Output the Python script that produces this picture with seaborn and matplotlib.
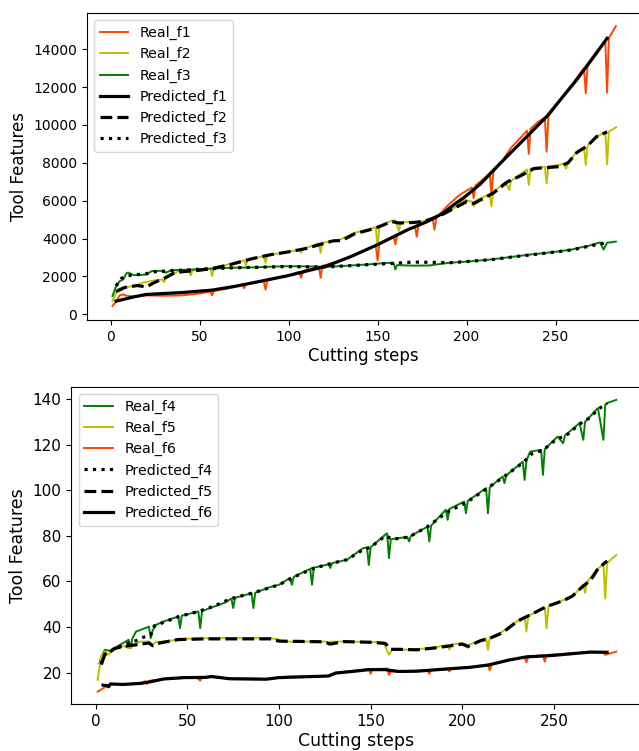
import matplotlib
matplotlib.use("Agg")
import matplotlib.pyplot as plt
import seaborn as sns

# ---- top panel: f1..f3 ----
f1_x = [1, 3, 5, 7, 9, 12, 20, 30, 40, 50, 56, 57, 58, 65, 74, 75, 76, 86, 87, 88, 100, 106, 107, 108,
        117, 118, 119, 128, 140, 149, 150, 151, 159, 160, 161, 167, 171, 172, 173, 181, 182, 183, 190,
        196, 203, 204, 205, 210, 213, 214, 215, 220, 225, 230, 234, 235, 236, 240, 244, 245, 246, 255,
        262, 266, 267, 268, 275, 278, 279, 280, 284]
f1_y = [440, 650, 1000, 1050, 980, 950, 1000, 980, 1000, 1100, 1200, 1000, 1230, 1350, 1550, 1380, 1580,
        1760, 1300, 1800, 2050, 2250, 1930, 2300, 2500, 1930, 2560, 2800, 3250, 3640, 2840, 3700, 4100,
        3700, 4180, 4470, 4650, 4100, 4700, 5050, 4470, 5100, 5800, 6300, 6700, 6140, 6800, 7200, 7450,
        6300, 7500, 8100, 8800, 9300, 9700, 8470, 9800, 10150, 10400, 8590, 10450, 11600, 12500, 13000,
        11680, 13100, 14000, 14400, 11710, 14600, 15230]
p1_x = [3, 6, 12, 20, 40, 57, 70, 87, 100, 121, 135, 150, 167, 178, 187, 193, 199, 208, 215, 225, 245,
        262, 279]
p1_y = [700, 760, 900, 1050, 1150, 1280, 1480, 1800, 2050, 2540, 3050, 3680, 4470, 4900, 5350, 5800,
        6200, 6900, 7600, 8550, 10440, 12400, 14580]

f2_x = [1, 4, 6, 13, 18, 25, 29, 30, 31, 38, 44, 45, 46, 52, 56, 57, 58, 66, 75, 76, 77, 86, 87, 88, 98,
        106, 107, 108, 117, 118, 119, 128, 137, 149, 150, 151, 158, 160, 162, 163, 170, 176, 187, 193,
        199, 203, 204, 205, 213, 214, 215, 222, 224, 225, 234, 235, 236, 244, 245, 246, 255, 256, 257,
        262, 266, 267, 268, 273, 278, 279, 280, 284]
f2_y = [700, 1316, 1400, 1490, 1670, 1800, 1840, 1700, 1900, 2280, 2320, 2050, 2330, 2380, 2420, 2020,
        2430, 2630, 2850, 2600, 2870, 3080, 2720, 3120, 3280, 3400, 3245, 3450, 3750, 3245, 3780, 3910,
        4300, 4600, 3500, 4650, 4950, 4950, 4400, 4850, 4880, 4910, 5350, 5610, 6050, 5950, 5700, 6000,
        6350, 5700, 6450, 7000, 6567, 7050, 7650, 6830, 7700, 7800, 6920, 7800, 7950, 7700, 8000, 8590,
        8800, 7890, 8900, 9380, 9600, 7925, 9650, 9880]
p2_x = [3, 8, 15, 20, 25, 30, 35, 40, 50, 57, 66, 80, 90, 100, 110, 118, 125, 130, 137, 145, 150, 158,
        162, 170, 176, 182, 187, 195, 200, 204, 210, 215, 223, 230, 238, 245, 252, 257, 262, 268, 273, 279]
p2_y = [1200, 1420, 1520, 1450, 1700, 1900, 2150, 2250, 2330, 2420, 2600, 2950, 3150, 3300, 3480, 3700,
        3880, 3900, 4250, 4450, 4600, 4900, 4820, 4850, 4900, 5100, 5300, 5700, 5950, 5850, 6150, 6400,
        7000, 7300, 7700, 7750, 7800, 8000, 8550, 8900, 9380, 9640]

f3_x = [1, 3, 5, 7, 9, 10, 13, 20, 23, 28, 31, 34, 48, 66, 80, 98, 110, 121, 130, 144, 156, 159, 160, 161,
        170, 179, 190, 202, 213, 225, 236, 248, 259, 265, 268, 275, 277, 279, 284]
f3_y = [965, 1490, 1750, 1840, 2190, 2200, 2070, 2100, 2280, 2300, 2200, 2330, 2370, 2455, 2480, 2540,
        2530, 2510, 2550, 2630, 2720, 2700, 2370, 2600, 2570, 2580, 2720, 2800, 2890, 3030, 3160, 3280,
        3420, 3550, 3600, 3800, 3420, 3780, 3840]
p3_x = [3, 6, 10, 15, 20, 25, 30, 40, 50, 66, 98, 121, 144, 160, 170, 185, 190, 202, 213, 225, 236, 248,
        259, 268, 275, 279]
p3_y = [1500, 1900, 2050, 2100, 2150, 2250, 2280, 2330, 2380, 2450, 2520, 2500, 2620, 2700, 2760, 2740,
        2720, 2800, 2880, 3020, 3140, 3270, 3400, 3580, 3720, 3780]

# ---- bottom panel: f4..f6 ----
f4_x = [2, 3, 5, 8, 10, 15, 18, 19, 20, 22, 28, 29, 30, 31, 33, 37, 45, 46, 47, 56, 57, 58, 63, 70, 74,
        75, 76, 85, 86, 87, 95, 100, 106, 107, 108, 117, 118, 119, 127, 128, 129, 137, 146, 148, 149, 150,
        158, 159, 160, 161, 170, 171, 172, 181, 182, 183, 191, 192, 193, 201, 202, 203, 213, 214, 215,
        222, 223, 224, 233, 234, 235, 237, 243, 244, 245, 252, 255, 256, 264, 266, 267, 274, 277, 278,
        279, 284]
f4_y = [24, 27, 30, 29.5, 30.7, 33, 34.4, 30.7, 35, 38, 39.8, 40.2, 35.1, 38.5, 41, 42.4, 44.6, 39.5, 45,
        46.8, 39.5, 47, 48.5, 50.5, 52.5, 48.3, 52.8, 54.8, 48.3, 55, 57.5, 58.5, 61.5, 58.5, 62, 65.5,
        58.5, 66, 67.5, 65.9, 68, 69.5, 74.6, 74.8, 67.2, 75, 80.5, 81.1, 70.2, 78.5, 79.5, 77.5, 80, 84,
        77.5, 84.5, 91.4, 87, 91.8, 95, 89.9, 95.3, 100.9, 89.9, 101.3, 106, 103.1, 106.5, 112.5, 104.5,
        113, 116.9, 117.7, 106.7, 118, 123.5, 120.6, 124, 129.4, 122.1, 130, 136, 122.1, 137.5, 138.2,
        139.6]
p4_x = [3, 5, 8, 12, 18, 22, 26, 28, 30, 32, 37, 45, 56, 64, 74, 86, 100, 107, 118, 128, 137, 146, 150,
        158, 162, 171, 181, 192, 202, 213, 222, 233, 238, 244, 252, 256, 264, 270, 274, 279]
p4_y = [24, 28, 29.5, 31, 33, 34, 35.5, 36, 36.5, 40.5, 42, 44.5, 46.8, 49, 52.5, 55, 58.5, 61.5, 65.5,
        67.8, 69.5, 74, 75, 80, 78.5, 79.5, 84, 90.5, 94.5, 100.5, 105.5, 112, 116, 117.5, 122.8, 123.5,
        129, 132, 135.5, 138]

f5_x = [1, 3, 5, 7, 10, 15, 18, 19, 24, 29, 31, 33, 37, 48, 64, 82, 95, 100, 102, 126, 127, 128, 137, 150,
        157, 160, 162, 171, 182, 192, 193, 194, 200, 202, 203, 204, 213, 214, 215, 222, 231, 234, 235,
        236, 245, 246, 247, 260, 266, 267, 268, 273, 277, 278, 279, 284]
f5_y = [16.8, 27, 29.2, 27.8, 30.7, 31.7, 30.7, 31, 33.6, 33.6, 32.2, 33.5, 33.6, 34.8, 35.1, 35.1, 35.1,
        34.5, 33.6, 33.6, 32.2, 33.6, 33.6, 33.4, 33.2, 27.8, 30.3, 30, 30.7, 32, 30, 32.3, 32.9, 32.5,
        30.8, 32.3, 35.1, 30, 35.3, 38, 43.1, 44.3, 38, 44.8, 48.7, 39.5, 49.2, 53.4, 58.5, 55, 59.5, 65,
        67.5, 52.5, 68, 71.6]
p5_x = [3, 5, 7, 10, 15, 20, 25, 29, 31, 35, 45, 60, 80, 95, 100, 125, 128, 135, 150, 158, 161, 165, 175,
        185, 200, 203, 210, 215, 222, 230, 235, 240, 246, 255, 260, 266, 270, 274, 279]
p5_y = [23.5, 28, 28.5, 30.5, 31.5, 32, 32.5, 33, 31.8, 33, 34.5, 34.8, 34.8, 34.8, 33.8, 33.5, 32.5,
        33.6, 33.3, 32.8, 30.2, 30.2, 30, 30.8, 32.5, 31.5, 34, 35, 37.5, 42.5, 44.5, 46.5, 49, 51.5,
        53.5, 58, 60.5, 65.5, 69]

f6_x = [1, 4, 8, 15, 24, 27, 28, 29, 37, 48, 55, 57, 58, 63, 73, 93, 104, 126, 131, 149, 150, 151, 159,
        160, 161, 171, 181, 182, 183, 192, 193, 194, 204, 214, 215, 216, 226, 234, 235, 236, 244, 245,
        246, 260, 271, 277, 278, 284]
f6_y = [11.6, 13.1, 15, 14.9, 15.3, 16.2, 15, 16.4, 17.2, 17.6, 17.8, 16.5, 17.8, 18, 17.5, 17.2, 18.2,
        18.5, 20, 21.5, 19.5, 21.4, 21.8, 19, 20.5, 20.7, 21, 19.5, 21.2, 21.5, 20.5, 21.8, 22.3, 23.5,
        21, 23.6, 25.6, 26.8, 24.5, 27, 27.6, 24.8, 27.7, 28.5, 28.9, 28.8, 27.8, 29.2]
p6_x = [4, 6, 7, 8, 15, 25, 30, 37, 48, 60, 63, 73, 93, 100, 127, 131, 140, 149, 158, 165, 175, 190, 204,
        214, 226, 235, 249, 260, 270, 279]
p6_y = [14.5, 14.3, 13.8, 15, 14.8, 15.3, 16, 17.2, 17.8, 17.9, 18.3, 17.3, 17.1, 17.8, 18.5, 19.8, 20.5,
        21.3, 21.3, 20.5, 20.6, 21.5, 22.3, 23.3, 25.6, 26.9, 27.5, 28.3, 29, 28.9]

RED, YEL, GRN = "#ff4500", "y", "g"

fig = plt.figure(figsize=(6.39, 7.51), dpi=100)
ax1 = fig.add_axes([0.1362, 0.5739, 0.8654, 0.4084])
ax2 = fig.add_axes([0.1117, 0.0622, 0.8914, 0.4229])

real_lw, pred_lw = 1.4, 2.3

sns.lineplot(x=f1_x, y=f1_y, ax=ax1, color=RED, lw=real_lw, label="Real_f1", estimator=None)
sns.lineplot(x=f2_x, y=f2_y, ax=ax1, color=YEL, lw=real_lw, label="Real_f2", estimator=None)
sns.lineplot(x=f3_x, y=f3_y, ax=ax1, color=GRN, lw=real_lw, label="Real_f3", estimator=None)
sns.lineplot(x=p1_x, y=p1_y, ax=ax1, color="k", lw=pred_lw, linestyle="-", label="Predicted_f1", estimator=None)
sns.lineplot(x=p2_x, y=p2_y, ax=ax1, color="k", lw=pred_lw, linestyle="--", label="Predicted_f2", estimator=None)
sns.lineplot(x=p3_x, y=p3_y, ax=ax1, color="k", lw=pred_lw, linestyle=":", label="Predicted_f3", estimator=None)

sns.lineplot(x=f4_x, y=f4_y, ax=ax2, color=GRN, lw=real_lw, label="Real_f4", estimator=None)
sns.lineplot(x=f5_x, y=f5_y, ax=ax2, color=YEL, lw=real_lw, label="Real_f5", estimator=None)
sns.lineplot(x=f6_x, y=f6_y, ax=ax2, color=RED, lw=real_lw, label="Real_f6", estimator=None)
sns.lineplot(x=p4_x, y=p4_y, ax=ax2, color="k", lw=pred_lw, linestyle=":", label="Predicted_f4", estimator=None)
sns.lineplot(x=p5_x, y=p5_y, ax=ax2, color="k", lw=pred_lw, linestyle="--", label="Predicted_f5", estimator=None)
sns.lineplot(x=p6_x, y=p6_y, ax=ax2, color="k", lw=pred_lw, linestyle="-", label="Predicted_f6", estimator=None)

ax1.set_xlim(-13.3, 297.5)
ax1.set_ylim(-300, 15900)
ax1.set_xticks([0, 50, 100, 150, 200, 250])
ax1.set_yticks(range(0, 14001, 2000))
ax1.tick_params(labelsize=10)
ax1.set_xlabel("Cutting steps", fontsize=12, labelpad=2)
ax1.set_ylabel("Tool Features", fontsize=12)
ax1.legend(loc="upper left", fontsize=10.2)

ax2.set_xlim(-13.3, 297.5)
ax2.set_ylim(6.1, 145.4)
ax2.set_xticks([0, 50, 100, 150, 200, 250])
ax2.set_yticks(range(20, 141, 20))
ax2.tick_params(labelsize=11)
ax2.set_xlabel("Cutting steps", fontsize=12.5, labelpad=2)
ax2.set_ylabel("Tool Features", fontsize=12.5)
ax2.legend(loc="upper left", fontsize=10.3)

fig.savefig("out.png", dpi=100)
